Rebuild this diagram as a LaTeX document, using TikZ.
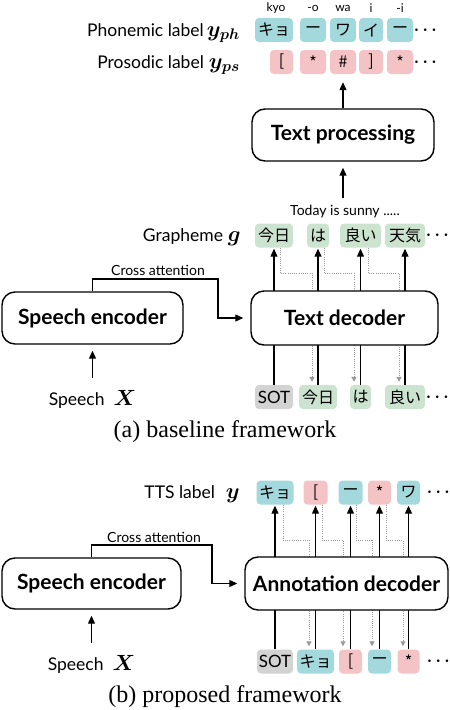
\RequirePackage{fix-cm}
\documentclass[tikz,border=0pt]{standalone}
\usepackage[no-math]{fontspec}
\usepackage{amsmath,bm}
\setmainfont{Liberation Serif}
\setsansfont{Lato}
\newfontfamily\jpf{Noto Sans CJK JP}
\usetikzlibrary{arrows.meta,calc}
\definecolor{cy}{HTML}{A3D9DD}
\definecolor{pk}{HTML}{F3C3C5}
\definecolor{gr}{HTML}{CBE3CF}
\definecolor{gy}{HTML}{D3D3D3}
\definecolor{dotc}{HTML}{999999}
\newcommand\mth[1]{{\fontsize{22}{24}\selectfont$#1$}}
\begin{document}
\begin{tikzpicture}[x=1pt,y=-1pt,
  tok/.style={rounded corners=4pt, inner sep=0pt, minimum height=24pt, font=\jpf\fontsize{16}{16}\selectfont},
  cyt/.style={tok, fill=cy}, pkt/.style={tok, fill=pk}, grt/.style={tok, fill=gr},
  gyt/.style={tok, fill=gy, font=\sffamily\fontsize{17}{17}\selectfont},
  bigbox/.style={draw, line width=1.4pt, rounded corners=13pt, fill=white, inner sep=0pt, font=\sffamily\bfseries\fontsize{21}{24}\selectfont},
  lab/.style={inner sep=0pt, font=\sffamily\fontsize{17.5}{20}\selectfont},
  smalltxt/.style={inner sep=0pt, font=\sffamily\fontsize{14}{16}\selectfont},
  tinytxt/.style={inner sep=0pt, font=\sffamily\fontsize{12}{14}\selectfont},
  dotstxt/.style={inner sep=0pt, font=\fontsize{17}{17}\selectfont},
  capt/.style={inner sep=0pt, font=\rmfamily\fontsize{24}{28}\selectfont},
  arr/.style={line width=1.2pt, -{Triangle[length=8pt,width=7pt]}},
  calink/.style={line width=1.1pt, -{Triangle[length=8pt,width=7pt]}},
  dotarr/.style={dotc, line width=1pt, dash pattern=on 1pt off 1.2pt, -{Triangle[length=5pt,width=5pt]}, shorten >=3pt}
]
\useasboundingbox (0,0) rectangle (450,710);

% ---------- (a) top labels
\node[tinytxt] (k1) at (276,8) {kyo};
\node[tinytxt] (k2) at (313,8) {-o};
\node[tinytxt] (k3) at (343,8) {wa};
\node[tinytxt] (k4) at (371,8) {i};
\node[tinytxt] (k5) at (400,8) {-i};

\node[lab, anchor=base east] (phl) at (240,36) {Phonemic label\hspace{3pt}\mth{\bm{y}_{\bm{ph}}}};
\node[cyt, minimum width=38pt] (ph1) at (274,30) {キョ};
\node[cyt, minimum width=26pt] (ph2) at (313,30) {ー};
\node[cyt, minimum width=26pt] (ph3) at (343,30) {ワ};
\node[cyt, minimum width=24pt] (ph4) at (371,30) {イ};
\node[cyt, minimum width=26pt] (ph5) at (400,30) {ー};
\node[dotstxt] (phd) at (427,30) {$\bm{\cdots}$};

\node[lab, anchor=base east] (psl) at (240,68) {Prosodic label\hspace{5pt}\mth{\bm{y}_{\bm{ps}}}};
\node[pkt, minimum width=23pt] (pr1) at (281.5,62) {[};
\node[pkt, minimum width=26pt] (pr2) at (313,62) {*};
\node[pkt, minimum width=26pt] (pr3) at (343,62) {\#};
\node[pkt, minimum width=24pt] (pr4) at (371,62) {]};
\node[pkt, minimum width=26pt] (pr5) at (400,62) {*};
\node[dotstxt] (prd) at (427,62) {$\bm{\cdots}$};

\node[bigbox, minimum width=182pt, minimum height=52pt] (tp) at (343,135) {Text processing};
\draw[arr, shorten >=8pt] (tp.north) -- (tp.north |- pr3.south);
\node[smalltxt] (today) at (345,212) {Today is sunny .....};
\coordinate (tdt) at (343,198);
\draw[arr, shorten >=6pt] (tdt) -- (tp.south);

% ---------- grapheme row
\node[lab, anchor=base east] (grl) at (241,241) {Grapheme\hspace{5pt}\mth{\bm{g}}};
\node[grt, minimum width=38pt] (g1) at (274,235.5) {今日};
\node[grt, minimum width=22pt] (g2) at (318,235.5) {は};
\node[grt, minimum width=41pt] (g3) at (360.5,235.5) {良い};
\node[grt, minimum width=40pt] (g4) at (405,235.5) {天気};
\node[dotstxt] (gd) at (439,235.5) {$\bm{\cdots}$};

% ---------- bottom input row (a)
\node[gyt, minimum width=38pt] (b1) at (274,397) {SOT};
\node[grt, minimum width=38pt] (b2) at (318,397) {今日};
\node[grt, minimum width=21pt] (b3) at (360.5,397) {は};
\node[grt, minimum width=40pt] (b4) at (405,397) {良い};
\node[dotstxt] (bd) at (439,397) {$\bm{\cdots}$};

\draw[dotarr] ($(g1.south)+(6,0)$) -- ++(0,25.5) -| ($(b2.north)+(-6,0)$);
\draw[dotarr] ($(g2.south)+(6,0)$) -- ++(0,25.5) -| ($(b3.north)+(-6.5,0)$);
\draw[dotarr] ($(g3.south)+(7.5,0)$) -- ++(0,25.5) -| ($(b4.north)+(-6,0)$);

\draw[arr, shorten >=1pt] (b1.north) -- (g1.south);
\draw[arr, shorten >=1pt] (b2.north) -- (g2.south);
\draw[arr, shorten >=1pt] (b3.north) -- (g3.south);
\draw[arr, shorten >=1pt] (b4.north) -- (g4.south);

\node[bigbox, minimum width=187pt, minimum height=54pt] (td) at (344.5,318) {Text decoder};
\node[bigbox, minimum width=181pt, minimum height=52pt] (se1) at (92.5,318) {Speech encoder};
\coordinate (ca1) at (218,279);
\draw[calink, shorten >=7pt] (se1.north) |- (ca1) |- (td.west);
\node[smalltxt] (cal1) at (158,270) {Cross attention};
\node[lab, anchor=base] (sp1) at (92.5,405) {Speech\hspace{9pt}\mth{\bm{X}}};
\coordinate (sp1t) at (92.5,378);
\draw[arr, shorten >=6pt] (sp1t) -- (se1.south);
\node[capt] (capa) at (225,432) {(a) baseline framework};

% ---------- (b)
\node[lab, anchor=base east] (ttl) at (240,498) {TTS label\hspace{11pt}\mth{\bm{y}}};
\node[cyt, minimum width=37pt] (t1) at (275,492.5) {キョ};
\node[pkt, minimum width=24pt] (t2) at (315.5,492.5) {[};
\node[cyt, minimum width=24pt] (t3) at (350.5,492.5) {ー};
\node[pkt, minimum width=23pt] (t4) at (379.5,492.5) {*};
\node[cyt, minimum width=23pt] (t5) at (408.5,492.5) {ワ};
\node[dotstxt] (ttd) at (440,492.5) {$\bm{\cdots}$};

\node[gyt, minimum width=36pt] (u1) at (275,661.5) {SOT};
\node[cyt, minimum width=37pt] (u2) at (315.5,661.5) {キョ};
\node[pkt, minimum width=23pt] (u3) at (350.5,661.5) {[};
\node[cyt, minimum width=23pt] (u4) at (379.5,661.5) {ー};
\node[pkt, minimum width=22pt] (u5) at (408.5,661.5) {*};
\node[dotstxt] (ud) at (440,661.5) {$\bm{\cdots}$};

\draw[dotarr] ($(t1.south)+(8,0)$) -- ++(0,35.5) -| ($(u2.north)+(-6.5,0)$);
\draw[dotarr] ($(t2.south)+(6.5,0)$) -- ++(0,35.5) -| ($(u3.north)+(-7.5,0)$);
\draw[dotarr] ($(t3.south)+(5.5,0)$) -- ++(0,35.5) -| ($(u4.north)+(-7.5,0)$);
\draw[dotarr] ($(t4.south)+(6.5,0)$) -- ++(0,35.5) -| ($(u5.north)+(-5.5,0)$);

\draw[arr, shorten >=1pt] (u1.north) -- (t1.south);
\draw[arr, shorten >=1pt] (u2.north) -- (t2.south);
\draw[arr, shorten >=1pt] (u3.north) -- (t3.south);
\draw[arr, shorten >=1pt] (u4.north) -- (t4.south);
\draw[arr, shorten >=1pt] (u5.north) -- (t5.south);

\node[bigbox, minimum width=203pt, minimum height=53pt] (ad) at (346.5,583.5) {Annotation decoder};
\node[bigbox, minimum width=179pt, minimum height=51pt] (se2) at (91.5,583.5) {Speech encoder};
\coordinate (ca2) at (212,545);
\draw[calink, shorten >=7pt] (se2.north) |- (ca2) |- (ad.west);
\node[smalltxt] (cal2) at (154,537) {Cross attention};
\node[lab, anchor=base] (sp2) at (91.5,670) {Speech\hspace{9pt}\mth{\bm{X}}};
\coordinate (sp2t) at (91.5,643);
\draw[arr, shorten >=6pt] (sp2t) -- (se2.south);
\node[capt] (capb) at (225,697) {(b) proposed framework};
\end{tikzpicture}
\end{document}
